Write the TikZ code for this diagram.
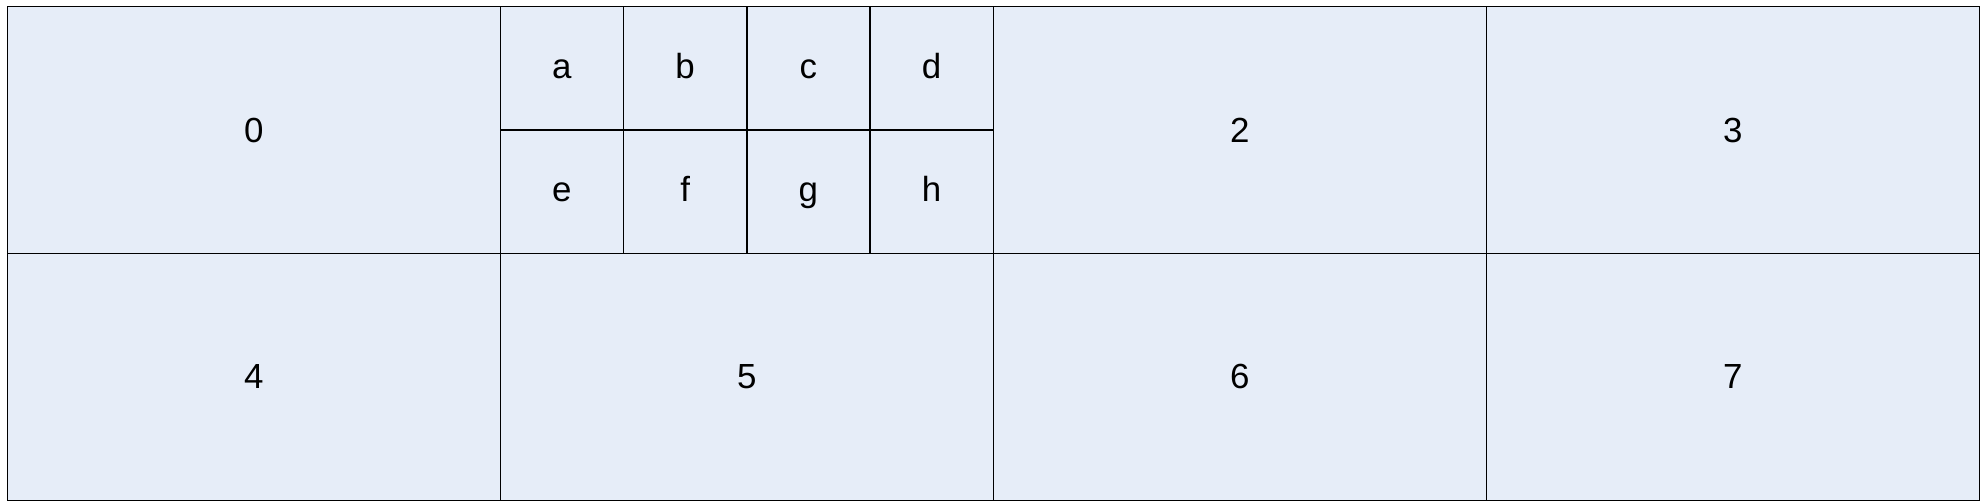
\documentclass[tikz,border=0pt]{standalone}
\usepackage{fontspec}
\setmainfont{Liberation Sans}
\definecolor{cellfill}{HTML}{E6EDF8}
\tikzset{
  cell/.style={draw=black, fill=cellfill, line width=1.5bp, inner sep=0pt, anchor=north west,
    font=\fontsize{35}{40}\selectfont},
  bigcell/.style={cell, minimum width=493bp, minimum height=246.75bp},
  smallcell/.style={cell, minimum width=123.25bp, minimum height=123.375bp,
    text height=20bp, text depth=0pt}
}
\begin{document}
\begin{tikzpicture}[x=1bp,y=-1bp]
\useasboundingbox (0,0) rectangle (1982,504);
% top row
\node[bigcell] (c0) at (6.5,6) {0};
\node[bigcell] (c2) at (992.5,6) {2};
\node[bigcell] (c3) at (1485.5,6) {3};
% small grid (cell 1)
\node[smallcell] (ca) at (499.5,6) {a};
\node[smallcell] (cb) at (622.75,6) {b};
\node[smallcell] (cc) at (746,6) {c};
\node[smallcell] (cd) at (869.25,6) {d};
\node[smallcell] (ce) at (499.5,129.375) {e};
\node[smallcell] (cf) at (622.75,129.375) {f};
\node[smallcell] (cg) at (746,129.375) {g};
\node[smallcell] (ch) at (869.25,129.375) {h};
% bottom row
\node[bigcell] (c4) at (6.5,252.75) {4};
\node[bigcell] (c5) at (499.5,252.75) {5};
\node[bigcell] (c6) at (992.5,252.75) {6};
\node[bigcell] (c7) at (1485.5,252.75) {7};
\end{tikzpicture}
\end{document}
